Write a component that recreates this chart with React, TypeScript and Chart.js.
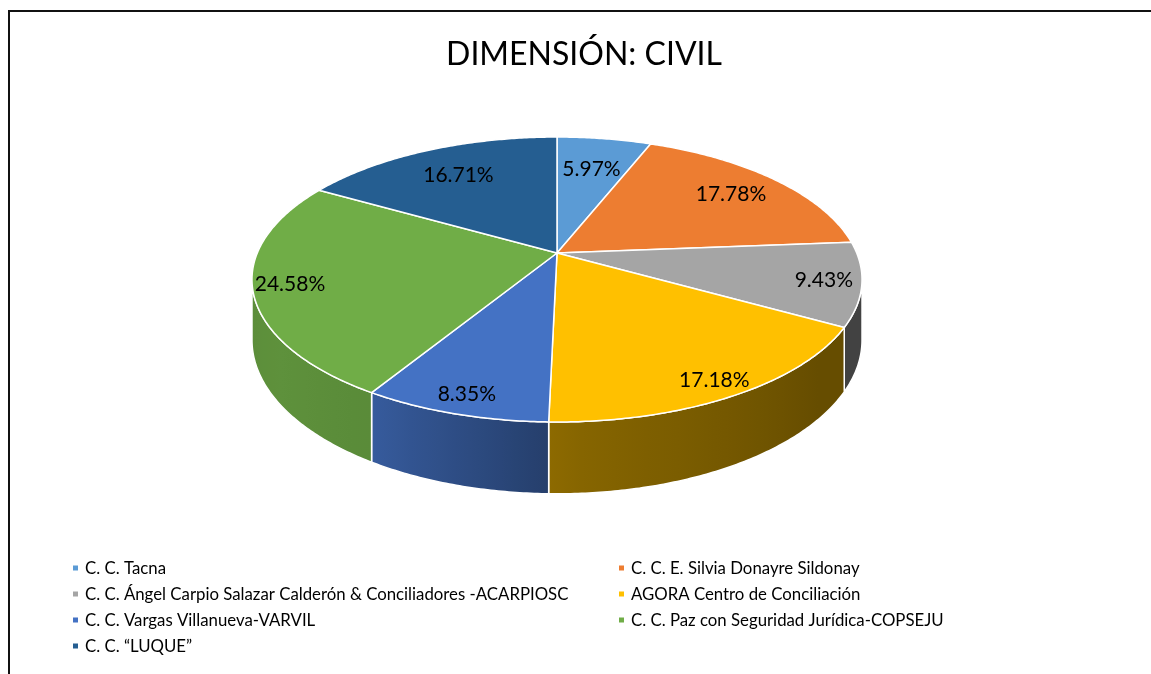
import React, { useEffect, useRef } from 'react';
import { Chart, registerables } from 'chart.js';

Chart.register(...registerables);

// ---- data ----
const categories = [
  'C. C. Tacna',
  'C. C. E. Silvia Donayre Sildonay',
  'C. C. Ángel Carpio Salazar Calderón & Conciliadores -ACARPIOSC',
  'AGORA Centro de Conciliación',
  'C. C. Vargas Villanueva-VARVIL',
  'C. C. Paz con Seguridad Jurídica-COPSEJU',
  'C. C. “LUQUE”',
];
const shares = [5.97, 17.78, 9.43, 17.18, 8.35, 24.58, 16.71];
const sliceColors = ['#5B9BD5', '#ED7D31', '#A5A5A5', '#FFC000', '#4472C4', '#70AD47', '#255E91'];
const titleText = 'DIMENSIÓN: CIVIL';

// ---- style ----
const FONT = 'Lato, "Open Sans", sans-serif';
const PERSP = 0.186; // perspective strength
const SX = 1.998; // horizontal stretch of the projected disc
const SY = 0.917; // vertical squash of the projected disc
const DEPTH = 0.39; // thickness of the disc
const shadeStops: [number, number][] = [
  [90, 0.4], [130, 0.4], [175, 0.52], [181, 0.55], [211, 0.8], [235, 0.84], [270, 0.8],
];

function shade(thDeg: number) {
  if (thDeg <= shadeStops[0][0]) return shadeStops[0][1];
  for (let i = 1; i < shadeStops.length; i++) {
    const [a, fa] = shadeStops[i - 1];
    const [b, fb] = shadeStops[i];
    if (thDeg <= b) return fa + ((fb - fa) * (thDeg - a)) / (b - a);
  }
  return shadeStops[shadeStops.length - 1][1];
}

function scaleColor(hex: string, f: number) {
  const n = parseInt(hex.slice(1), 16);
  const r = Math.round(((n >> 16) & 255) * f);
  const g = Math.round(((n >> 8) & 255) * f);
  const b = Math.round((n & 255) * f);
  return `rgb(${r},${g},${b})`;
}

function proj(cx: number, cy: number, R: number, th: number, f = 1, drop = 0) {
  const u = Math.sin(th) * f;
  const v = Math.cos(th) * f;
  const d = 1 + PERSP * v;
  return [cx + (SX * R * u) / d, cy - (SY * R * v) / d + (DEPTH * R * drop) / d];
}

const pie3d = {
  id: 'pie3d',
  beforeDatasetsDraw(chart: any) {
    const meta = chart.getDatasetMeta(0);
    const ctx: CanvasRenderingContext2D = chart.ctx;
    const arcs = meta.data;
    if (!arcs.length) return false;
    const cx = arcs[0].x;
    const cy = arcs[0].y;
    const R = arcs[0].outerRadius;
    const thR = Math.acos(-PERSP);
    const thL = 2 * Math.PI - thR;
    ctx.save();
    // side walls
    arcs.forEach((arc: any, i: number) => {
      const t1 = arc.startAngle + Math.PI / 2;
      const t2 = arc.endAngle + Math.PI / 2;
      const a = Math.max(t1, thR);
      const b = Math.min(t2, thL);
      if (b <= a) return;
      const n = Math.max(2, Math.ceil((b - a) / 0.01));
      ctx.beginPath();
      for (let j = 0; j <= n; j++) {
        const p = proj(cx, cy, R, a + ((b - a) * j) / n, 1, 0);
        if (j === 0) ctx.moveTo(p[0], p[1]);
        else ctx.lineTo(p[0], p[1]);
      }
      for (let j = n; j >= 0; j--) {
        const p = proj(cx, cy, R, a + ((b - a) * j) / n, 1, 1);
        ctx.lineTo(p[0], p[1]);
      }
      ctx.closePath();
      const xa = proj(cx, cy, R, a)[0];
      const xb = proj(cx, cy, R, b)[0];
      const grad = ctx.createLinearGradient(xa, 0, xb, 0);
      const base = sliceColors[i % sliceColors.length];
      for (let s = 0; s <= 12; s++) {
        const th = a + ((b - a) * s) / 12;
        const x = proj(cx, cy, R, th)[0];
        const off = Math.min(1, Math.max(0, (x - xa) / (xb - xa)));
        grad.addColorStop(off, scaleColor(base, shade((th * 180) / Math.PI)));
      }
      ctx.fillStyle = grad;
      ctx.fill();
      ctx.strokeStyle = '#ffffff';
      ctx.lineWidth = 1.5;
      ctx.stroke();
    });
    // top faces
    arcs.forEach((arc: any, i: number) => {
      const t1 = arc.startAngle + Math.PI / 2;
      const t2 = arc.endAngle + Math.PI / 2;
      const n = Math.max(2, Math.ceil((t2 - t1) / 0.01));
      ctx.beginPath();
      ctx.moveTo(cx, cy);
      for (let j = 0; j <= n; j++) {
        const p = proj(cx, cy, R, t1 + ((t2 - t1) * j) / n);
        ctx.lineTo(p[0], p[1]);
      }
      ctx.closePath();
      ctx.fillStyle = sliceColors[i % sliceColors.length];
      ctx.fill();
      ctx.strokeStyle = '#ffffff';
      ctx.lineWidth = 1.5;
      ctx.lineJoin = 'round';
      ctx.stroke();
    });
    // data labels
    ctx.fillStyle = '#000000';
    ctx.font = `21px ${FONT}`;
    ctx.textAlign = 'center';
    ctx.textBaseline = 'middle';
    const values = chart.data.datasets[0].data as number[];
    arcs.forEach((arc: any, i: number) => {
      const mid = (arc.startAngle + arc.endAngle) / 2 + Math.PI / 2;
      const u = Math.sin(mid);
      const v = Math.cos(mid);
      const f = 0.78 - 0.1 * v + 0.08 * Math.abs(u);
      const p = proj(cx, cy, R, mid, f);
      ctx.fillText(`${values[i].toFixed(2)}%`, p[0], p[1]);
    });
    ctx.restore();
    return false;
  },
  afterDraw(chart: any) {
    const ctx: CanvasRenderingContext2D = chart.ctx;
    ctx.save();
    // frame
    ctx.fillStyle = '#111111';
    ctx.fillRect(0, 0, 2, chart.height);
    ctx.fillRect(0, 0, chart.width, 2);
    // title
    ctx.fillStyle = '#000000';
    ctx.font = `32px ${FONT}`;
    ctx.textAlign = 'center';
    ctx.textBaseline = 'middle';
    ctx.fillText(titleText, chart.width / 2, 45);
    // legend (two columns)
    const labels = chart.data.labels as string[];
    const colX = [65, 611];
    const rowY = [558, 584, 610, 636];
    ctx.font = `16.8px ${FONT}`;
    ctx.textAlign = 'left';
    ctx.textBaseline = 'middle';
    labels.forEach((lab, i) => {
      const x = colX[i % 2];
      const y = rowY[Math.floor(i / 2)];
      ctx.fillStyle = sliceColors[i % sliceColors.length];
      ctx.fillRect(x, y - 2.5, 5, 5);
      ctx.fillStyle = '#000000';
      ctx.fillText(lab, x + 12, y + 1);
    });
    ctx.restore();
  },
};

export default function App() {
  const ref = useRef<HTMLCanvasElement | null>(null);
  useEffect(() => {
    if (!ref.current) return;
    const chart = new Chart(ref.current, {
      type: 'pie',
      data: {
        labels: categories,
        datasets: [
          {
            data: shares,
            backgroundColor: sliceColors,
            borderWidth: 0,
          },
        ],
      },
      options: {
        responsive: false,
        animation: false,
        events: [],
        layout: { padding: { left: 249, right: 303, top: 93, bottom: 271 } },
        plugins: {
          legend: { display: false },
          tooltip: { enabled: false },
          title: { display: false },
        },
      },
      plugins: [pie3d],
    } as any);
    return () => chart.destroy();
  }, []);
  return (
    <div
      style={{
        position: 'fixed',
        left: 0,
        top: 0,
        width: 1151,
        height: 674,
        overflow: 'hidden',
        background: '#ffffff',
      }}
    >
      <canvas
        ref={ref}
        width={1152}
        height={664}
        style={{ display: 'block', marginLeft: 8, marginTop: 10, width: 1152, height: 664 }}
      />
    </div>
  );
}
